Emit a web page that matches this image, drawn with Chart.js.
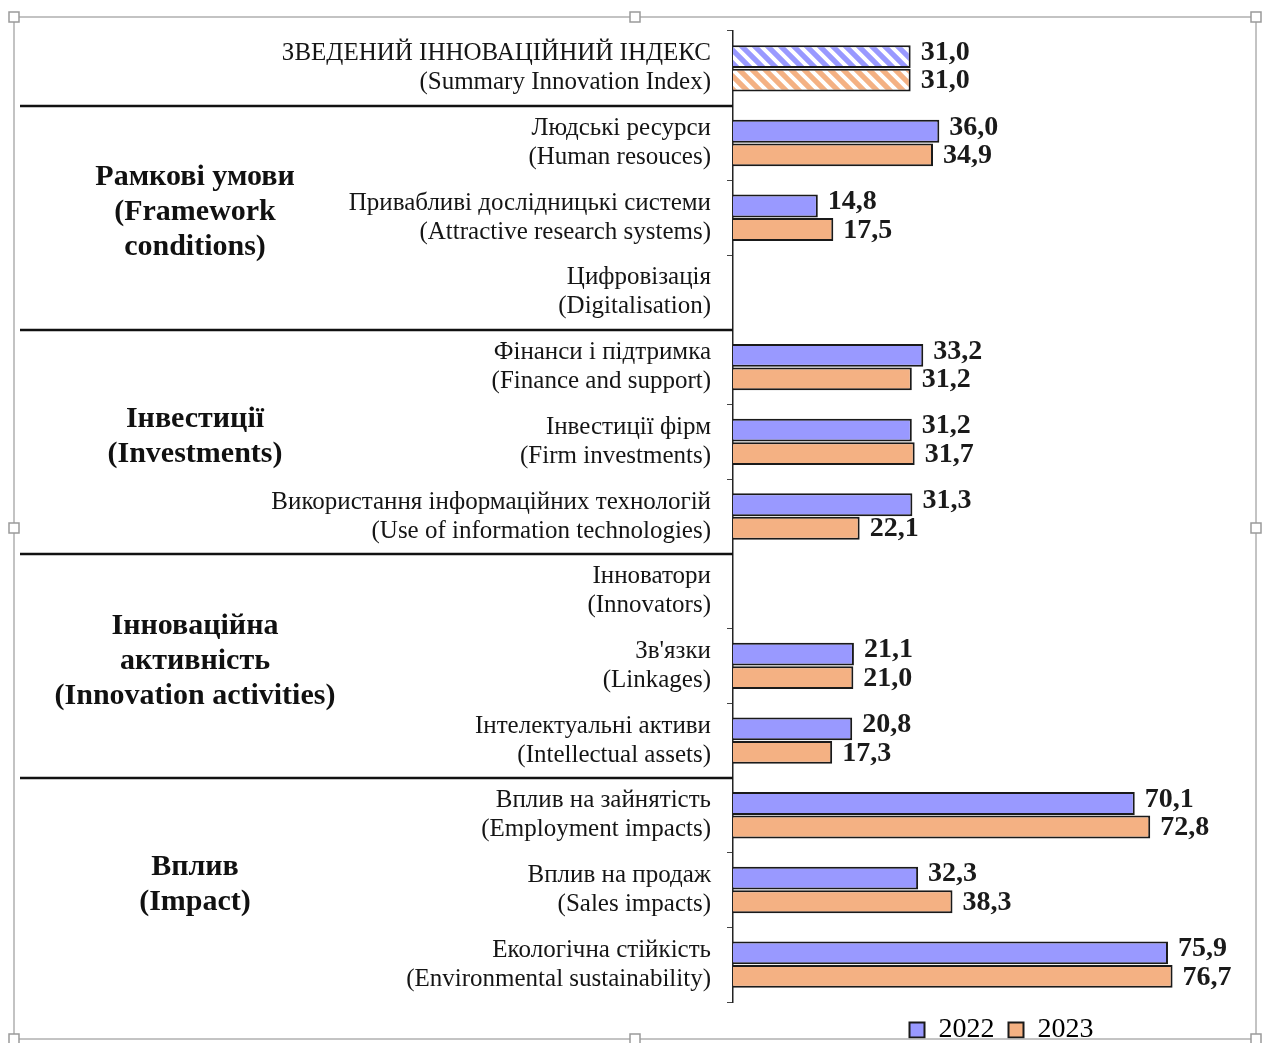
<!DOCTYPE html>
<html>
<head>
<meta charset="utf-8">
<script src="https://cdn.jsdelivr.net/npm/chart.js@4.4.1/dist/chart.umd.min.js"></script>
<style>
html,body{margin:0;padding:0;background:#fff;}
canvas{display:block;}
</style>
</head>
<body>
<canvas id="c" width="1270" height="1043"></canvas>
<script>
const categoriesUk = [
  'ЗВЕДЕНИЙ ІННОВАЦІЙНИЙ ІНДЕКС',
  'Людські ресурси',
  'Привабливі дослідницькі системи',
  'Цифровізація',
  'Фінанси і підтримка',
  'Інвестиції фірм',
  'Використання інформаційних технологій',
  'Інноватори',
  "Зв'язки",
  'Інтелектуальні активи',
  'Вплив на зайнятість',
  'Вплив на продаж',
  'Екологічна стійкість'
];
const categoriesEn = [
  'Summary Innovation Index',
  'Human resouces',
  'Attractive research systems',
  'Digitalisation',
  'Finance and support',
  'Firm investments',
  'Use of information technologies',
  'Innovators',
  'Linkages',
  'Intellectual assets',
  'Employment impacts',
  'Sales impacts',
  'Environmental sustainability'
];
const values2022 = [31.0, 36.0, 14.8, null, 33.2, 31.2, 31.3, null, 21.1, 20.8, 70.1, 32.3, 75.9];
const values2023 = [31.0, 34.9, 17.5, null, 31.2, 31.7, 22.1, null, 21.0, 17.3, 72.8, 38.3, 76.7];
const seriesNames = ['2022', '2023'];
const groupLabels = [
  ['Рамкові умови', '(Framework', 'conditions)'],
  ['Інвестиції', '(Investments)'],
  ['Інноваційна', 'активність', '(Innovation activities)'],
  ['Вплив', '(Impact)']
];
const groupStart = [1, 4, 7, 10];
const groupEnd = [3, 6, 9, 12];

const labels = categoriesUk.map((u, i) => [u, '(' + categoriesEn[i] + ')']);

const BLUE = '#9999FF';
const ORANGE = '#F4B183';
const SERIF = '"Liberation Serif", "Times New Roman", serif';

function hatch(color) {
  const s = 13;
  const c = document.createElement('canvas');
  c.width = s; c.height = s;
  const g = c.getContext('2d');
  g.fillStyle = color;
  g.fillRect(0, 0, s, s);
  g.strokeStyle = '#ffffff';
  g.lineWidth = 4;
  g.beginPath();
  g.moveTo(-s, -s); g.lineTo(2 * s, 2 * s);
  g.moveTo(-s, 0); g.lineTo(s, 2 * s);
  g.moveTo(0, -s); g.lineTo(2 * s, s);
  g.stroke();
  return g.createPattern(c, 'repeat');
}
const ctx0 = document.getElementById('c').getContext('2d');
const hatchBlue = hatch(BLUE);
const hatchOrange = hatch(ORANGE);

const fmt = v => v.toFixed(1).replace('.', ',');

const framePlugin = {
  id: 'frame',
  beforeDraw(chart) {
    const g = chart.ctx;
    g.save();
    g.fillStyle = '#fff';
    g.fillRect(0, 0, chart.width, chart.height);
    g.restore();
  },
  afterDraw(chart) {
    const g = chart.ctx;
    g.save();
    const L = 14, T = 17, R = 1256, B = 1039;
    g.strokeStyle = '#b0b0b0';
    g.lineWidth = 1.5;
    g.strokeRect(L, T, R - L, B - T);
    const pts = [[L, T], [(L + R) / 2, T], [R, T], [L, (T + B) / 2], [R, (T + B) / 2], [L, B], [(L + R) / 2, B], [R, B]];
    pts.forEach(p => {
      g.fillStyle = '#fff';
      g.fillRect(p[0] - 5, p[1] - 5, 10, 10);
      g.strokeStyle = '#9a9a9a';
      g.strokeRect(p[0] - 5, p[1] - 5, 10, 10);
    });
    g.restore();
  }
};

const groupPlugin = {
  id: 'groups',
  afterDraw(chart) {
    const g = chart.ctx;
    const y = chart.scales.y;
    const left = chart.chartArea.left;
    const half = (y.getPixelForValue(1) - y.getPixelForValue(0)) / 2;
    g.save();
    g.strokeStyle = '#111';
    g.lineWidth = 2.4;
    groupStart.forEach(s => {
      const py = Math.round(y.getPixelForValue(s) - half);
      g.beginPath();
      g.moveTo(20, py);
      g.lineTo(left, py);
      g.stroke();
    });
    g.fillStyle = '#111';
    g.font = 'bold 30px ' + SERIF;
    g.textAlign = 'center';
    g.textBaseline = 'middle';
    const lh = 35;
    groupLabels.forEach((lines, k) => {
      const cy = (y.getPixelForValue(groupStart[k]) + y.getPixelForValue(groupEnd[k])) / 2 - 5;
      const y0 = cy - (lines.length - 1) * lh / 2;
      lines.forEach((t, j) => g.fillText(t, 195, y0 + j * lh));
    });
    g.restore();
  }
};

const valueLabelPlugin = {
  id: 'valueLabels',
  afterDatasetsDraw(chart) {
    const g = chart.ctx;
    g.save();
    g.fillStyle = '#1a1a1a';
    g.font = 'bold 28px ' + SERIF;
    g.textAlign = 'left';
    g.textBaseline = 'middle';
    chart.data.datasets.forEach((ds, di) => {
      const meta = chart.getDatasetMeta(di);
      meta.data.forEach((bar, i) => {
        const v = ds.data[i];
        if (v === null || v === undefined) return;
        const dy = di === 0 ? -4 : 1;
        g.fillText(fmt(v), bar.x + 10, bar.y + dy);
      });
    });
    g.restore();
  }
};

new Chart(ctx0, {
  type: 'bar',
  data: {
    labels: labels,
    datasets: [
      {
        label: seriesNames[0],
        data: values2022,
        backgroundColor: values2022.map((v, i) => i === 0 ? hatchBlue : BLUE),
        borderColor: '#1a1a1a',
        borderWidth: 2,
        categoryPercentage: 0.63,
        barPercentage: 0.97
      },
      {
        label: seriesNames[1],
        data: values2023,
        backgroundColor: values2023.map((v, i) => i === 0 ? hatchOrange : ORANGE),
        borderColor: '#1a1a1a',
        borderWidth: 2,
        categoryPercentage: 0.63,
        barPercentage: 0.97
      }
    ]
  },
  options: {
    indexAxis: 'y',
    responsive: false,
    animation: false,
    layout: { padding: { top: 31, right: 0, left: 0, bottom: -11 } },
    scales: {
      x: {
        display: true,
        min: 0,
        max: 93.7,
        ticks: { display: false },
        grid: { display: false },
        border: { display: false },
        afterFit(scale) { scale.height = 0; scale.paddingLeft = 0; scale.paddingRight = 0; }
      },
      y: {
        afterFit(scale) { scale.width = 733; scale.paddingTop = 0; scale.paddingBottom = 0; },
        grid: {
          drawOnChartArea: false,
          drawTicks: true,
          tickLength: 6,
          color: '#444',
          offset: true
        },
        border: { display: true, color: '#222', width: 1.5 },
        ticks: {
          padding: 16,
          color: '#151515',
          font: { family: SERIF, size: 25, lineHeight: 1.16 },
          autoSkip: false
        }
      }
    },
    plugins: {
      legend: {
        position: 'bottom',
        fullSize: false,
        align: 'center',
        labels: {
          boxWidth: 15,
          boxHeight: 15,
          padding: 14,
          color: '#333',
          font: { family: SERIF, size: 28, lineHeight: 0.8 },
          generateLabels(chart) {
            return chart.data.datasets.map((ds, i) => ({
              text: ds.label,
              fillStyle: i === 0 ? BLUE : ORANGE,
              strokeStyle: '#1a1a1a',
              lineWidth: 2,
              datasetIndex: i,
              hidden: false
            }));
          }
        }
      },
      tooltip: { enabled: false }
    }
  },
  plugins: [framePlugin, groupPlugin, valueLabelPlugin]
});
</script>
</body>
</html>
